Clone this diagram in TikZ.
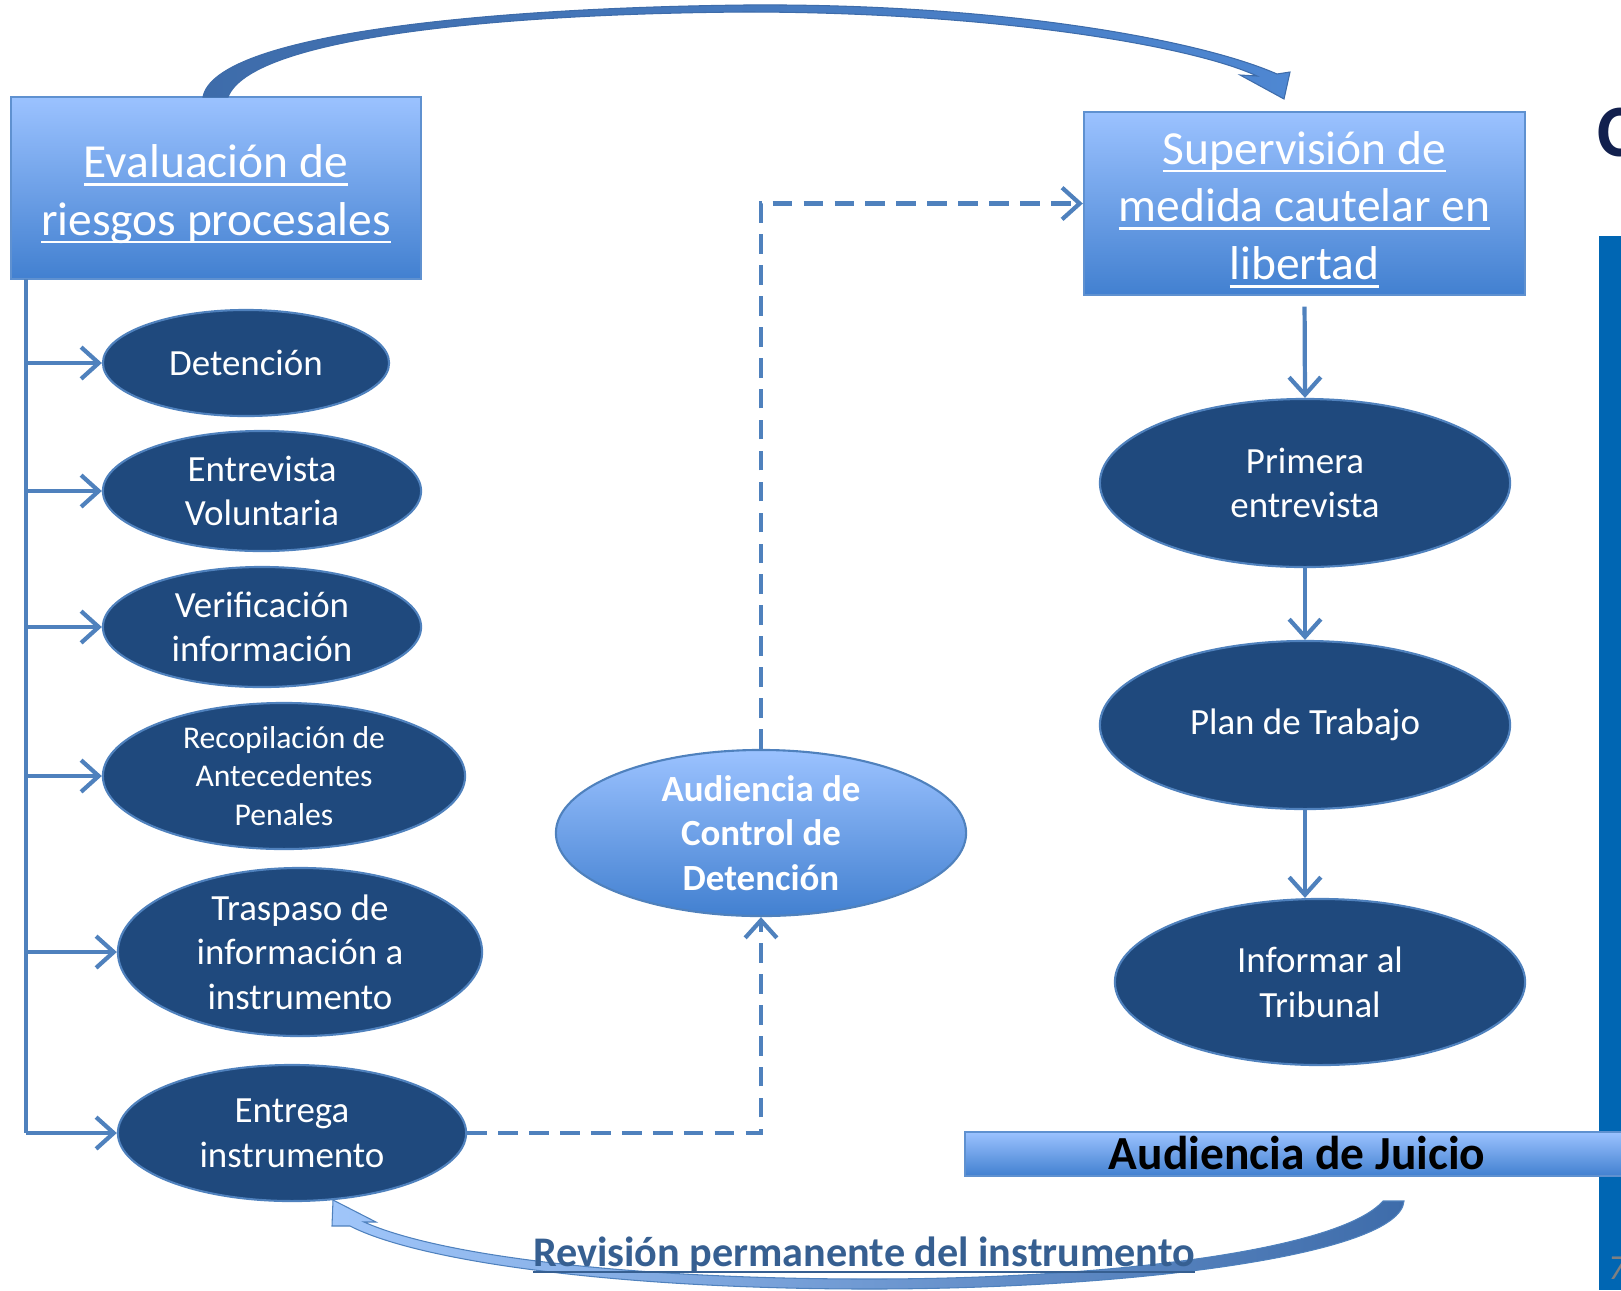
\documentclass[tikz,border=0pt]{standalone}
\usepackage{fontspec}
\setmainfont{Carlito}
\usetikzlibrary{shapes.geometric,arrows.meta,calc}
\definecolor{ellblue}{RGB}{31,73,125}
\definecolor{lineblue}{RGB}{79,129,189}
\definecolor{boxtop}{RGB}{155,194,255}
\definecolor{boxbot}{RGB}{66,128,208}
\definecolor{boxedge}{RGB}{95,145,208}
\definecolor{barblue}{RGB}{0,102,179}
\definecolor{navy}{RGB}{18,32,78}
\definecolor{revblue}{RGB}{54,95,145}
\definecolor{arrdark}{RGB}{62,108,170}
\definecolor{arrmid}{RGB}{78,135,210}
\definecolor{arrlight}{RGB}{160,198,250}
\newcommand{\fsz}[2]{\fontsize{#1}{#2}\selectfont}
\newcommand{\ul}[1]{\setbox0=\hbox{#1}\rlap{\rule[-0.17em]{\wd0}{0.055em}}\box0}
\newcommand{\topstrut}{\rule{0pt}{12.8pt}}

\begin{document}
\begin{tikzpicture}[x=.01cm,y=-.01cm,
 ell/.style={ellipse, fill=ellblue, draw=lineblue, line width=.6pt, text=white, align=center, inner xsep=0pt, inner ysep=-3pt, font=\fsz{10.5}{12.7}},
 hdr/.style={rectangle, top color=boxtop, bottom color=boxbot, draw=boxedge, line width=.6pt, text=white, align=center, inner ysep=0pt, font=\fsz{13.5}{16.4}},
 conn/.style={lineblue, line width=1.2pt},
 arr/.style={-{Straight Barb[length=5pt,width=9pt,line width=1.2pt]}},
 dashconn/.style={conn, dash pattern=on 5.6pt off 3.2pt}]
\useasboundingbox (0,0) rectangle (1621,1290);

% side bar
\fill[barblue] (1599,236) rectangle (1621,1290);
\node[anchor=west, text=navy, font=\bfseries\fsz{21}{24}, inner sep=0] (cut) at (1597,133) {C};
\node[text=gray, font=\itshape\fsz{10}{12}, inner sep=0] (pg) at (1617,1268) {7};

% headers
\node[hdr, minimum width=4.10cm, minimum height=1.82cm] (eval) at (216,188) {\topstrut\ul{Evaluación de}\\\ul{riesgos procesales}};
\node[hdr, minimum width=4.41cm, minimum height=1.83cm] (sup) at (1304.5,203.5) {\topstrut\ul{Supervisión de}\\\ul{medida cautelar en}\\\ul{libertad}};

% left column
\node[ell, minimum width=2.86cm, minimum height=1.06cm] (det) at (246,363) {Detención};
\node[ell, minimum width=3.18cm, minimum height=1.20cm] (entv) at (262,491) {Entrevista\\Voluntaria};
\node[ell, minimum width=3.18cm, minimum height=1.20cm] (ver) at (262,627) {Verificación\\información};
\node[ell, minimum width=3.62cm, minimum height=1.46cm, font=\fsz{9}{10.9}] (rec) at (284,776) {Recopilación de\\Antecedentes\\Penales};
\node[ell, minimum width=3.64cm, minimum height=1.68cm] (tras) at (300,952) {Traspaso de\\información a\\instrumento};
\node[ell, minimum width=3.48cm, minimum height=1.36cm] (ent) at (292,1133) {Entrega\\instrumento};

\coordinate (trunk) at (26,279);
\draw[conn] (trunk) -- (trunk |- ent.west);
\foreach \n in {det,entv,ver,rec,tras,ent}
 \draw[conn,arr] (trunk |- \n.west) -- (\n.west);

% middle
\node[ell, top color=boxtop, bottom color=boxbot, font=\bfseries\fsz{10.5}{12.7}, minimum width=4.10cm, minimum height=1.66cm] (adc) at (761,833) {Audiencia de\\Control de\\Detención};
\draw[dashconn,arr] (ent.east) -| (adc.south);
\draw[dashconn,arr] (adc.north) |- (sup.west);

% right column
\node[ell, minimum width=4.10cm, minimum height=1.68cm] (prim) at (1305,483) {Primera\\entrevista};
\node[ell, minimum width=4.10cm, minimum height=1.68cm] (plan) at (1305,725) {Plan de Trabajo};
\node[ell, minimum width=4.10cm, minimum height=1.66cm] (inf) at (1320,982) {Informar al\\Tribunal};
\draw[conn,arr,shorten <=3pt] (sup.south) -- (prim.north);
\draw[conn,arr] (prim.south) -- (plan.north);
\draw[conn,arr] (plan.south) -- (plan.south |- inf.north);

\node[rectangle, top color=boxtop, bottom color=boxbot, draw=boxedge, line width=.6pt, inner sep=0, text height=.9em, text depth=.04em, minimum width=6.64cm, minimum height=.44cm, font=\bfseries\fsz{13.5}{16}] (jui) at (1297,1154) {Audiencia de Juicio};

% curved arrows
\shade[left color=arrdark, right color=arrmid, draw=arrdark, line width=.3pt]
 (203,97) .. controls (215,35) and (480,8) .. (745,5) .. controls (1000,3) and (1200,40) .. (1277,74)
 -- (1290,72) -- (1284,99) -- (1240,75) -- (1257,76)
 .. controls (1190,45) and (990,12) .. (745,12) .. controls (480,14) and (250,40) .. (228,97) -- cycle;
\shade[left color=arrlight, right color=arrdark, draw=lineblue, line width=.3pt]
 (1404,1201) .. controls (1400,1255) and (1130,1289) .. (870,1289) .. controls (620,1289) and (420,1262) .. (350,1226)
 -- (332,1226) -- (333,1200) -- (376,1222) -- (364,1222)
 .. controls (440,1256) and (630,1279) .. (870,1279) .. controls (1110,1279) and (1340,1250) .. (1383,1201) -- cycle;
\node[text=revblue, font=\bfseries\fsz{12}{14}] (rev) at (864,1255) {\ul{Revisión permanente del instrumento}};
\end{tikzpicture}
\end{document}
